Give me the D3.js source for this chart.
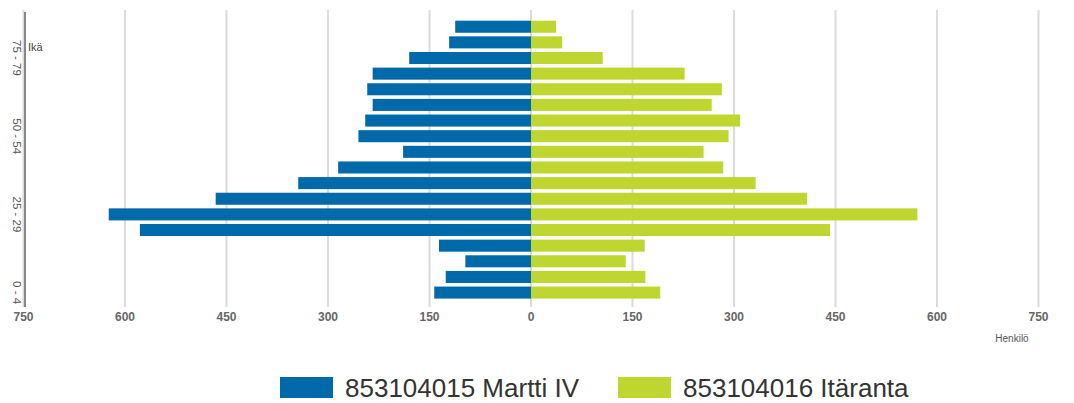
<!DOCTYPE html>
<html>
<head>
  <meta charset="utf-8">
  <title>Väestöpyramidi</title>
  <script src="https://d3js.org/d3.v7.min.js"></script>
  <style>
  body { margin: 0; background: #fff; font-family: 'Liberation Sans', Arial, sans-serif; }
  svg { display: block; }
  .grid line { stroke: #dcdcdc; stroke-width: 2; }
  .tick-label { font-size: 12px; font-weight: bold; fill: #666; }
  .age-label { font-size: 11.5px; fill: #555; }
  .legend text { font-size: 26px; fill: #333; }
  </style>
</head>
<body>
<svg id="pyramid"></svg>
<script>
// age groups, youngest first
var ageGroups = ["0 - 4", "5 - 9", "10 - 14", "15 - 19", "20 - 24", "25 - 29", "30 - 34", "35 - 39",
  "40 - 44", "45 - 49", "50 - 54", "55 - 59", "60 - 64", "65 - 69", "70 - 74", "75 - 79", "80 - 84", "85 -"];
var shownAges = ["0 - 4", "25 - 29", "50 - 54", "75 - 79"];

// persons per age group
var martti = [143, 126, 97, 136, 578, 624, 466, 344, 285, 189, 255, 245, 234, 242, 234, 180, 121, 112];
var itaranta = [191, 169, 140, 168, 442, 571, 408, 332, 284, 255, 292, 309, 267, 282, 227, 106, 46, 37];

var seriesNames = ["853104015 Martti IV", "853104016 Itäranta"];
var seriesColors = ["#0069aa", "#bed62f"];
var xTicks = [-750, -600, -450, -300, -150, 0, 150, 300, 450, 600, 750];

var width = 1074, height = 403;
var svg = d3.select("#pyramid").attr("width", width).attr("height", height);

var x = d3.scaleLinear().domain([-750, 750]).range([23.5, 1038.5]);
var y = d3.scaleBand()
  .domain(ageGroups.slice().reverse())
  .range([18.9, 300.4])
  .paddingInner(0.23)
  .paddingOuter(0.115);

// vertical grid
svg.append("g").attr("class", "grid")
  .selectAll("line")
  .data(xTicks)
  .enter().append("line")
  .attr("x1", function(d) { return x(d); })
  .attr("x2", function(d) { return x(d); })
  .attr("y1", 10)
  .attr("y2", 307);

// bars
var rows = ageGroups.map(function(a, i) { return { age: a, left: martti[i], right: itaranta[i] }; });

svg.append("g").selectAll("rect")
  .data(rows)
  .enter().append("rect")
  .attr("x", function(d) { return x(-d.left); })
  .attr("width", function(d) { return x(0) - x(-d.left); })
  .attr("y", function(d) { return y(d.age); })
  .attr("height", y.bandwidth())
  .attr("fill", seriesColors[0]);

svg.append("g").selectAll("rect")
  .data(rows)
  .enter().append("rect")
  .attr("x", x(0))
  .attr("width", function(d) { return x(d.right) - x(0); })
  .attr("y", function(d) { return y(d.age); })
  .attr("height", y.bandwidth())
  .attr("fill", seriesColors[1]);

// x tick labels (absolute values)
svg.append("g").selectAll("text")
  .data(xTicks)
  .enter().append("text")
  .attr("class", "tick-label")
  .attr("x", function(d) { return x(d); })
  .attr("y", 321)
  .attr("text-anchor", "middle")
  .text(function(d) { return Math.abs(d); });

svg.append("text")
  .attr("x", 1012).attr("y", 342)
  .attr("text-anchor", "middle")
  .style("font-size", "10px").style("fill", "#555")
  .text("Henkilö");

// category axis
svg.append("line")
  .attr("x1", 25).attr("x2", 25)
  .attr("y1", 12).attr("y2", 307)
  .attr("stroke", "#888").attr("stroke-width", 2);

svg.append("g").selectAll("text")
  .data(shownAges)
  .enter().append("text")
  .attr("class", "age-label")
  .attr("text-anchor", "middle")
  .attr("transform", function(d) {
    return "translate(13," + (y(d) + y.bandwidth() / 2) + ") rotate(90)";
  })
  .text(function(d) { return d; });

svg.append("text")
  .attr("x", 28).attr("y", 51)
  .style("font-size", "11px").style("fill", "#444")
  .text("Ikä");

// legend
var legendX = [280, 618];
var legend = svg.append("g").attr("class", "legend")
  .selectAll("g")
  .data(seriesNames)
  .enter().append("g")
  .attr("transform", function(d, i) { return "translate(" + legendX[i] + ",377)"; });

legend.append("rect")
  .attr("width", 53).attr("height", 21)
  .attr("fill", function(d, i) { return seriesColors[i]; });

legend.append("text")
  .attr("x", 65).attr("y", 20)
  .text(function(d) { return d; });
</script>
</body>
</html>
